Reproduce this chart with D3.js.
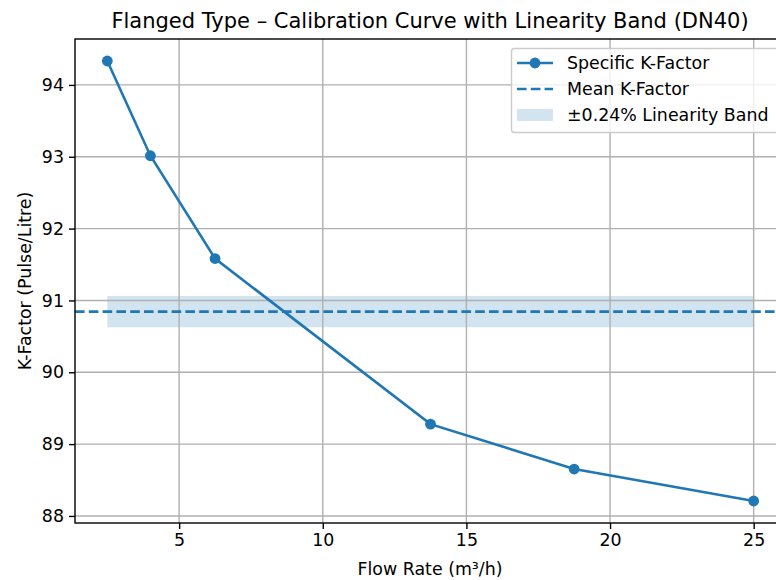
<!DOCTYPE html>
<html><head><meta charset="utf-8">
<script src="https://cdn.jsdelivr.net/npm/d3@7"></script>
<style>body{margin:0;background:#fff}svg{display:block;font-family:"DejaVu Sans",sans-serif}</style>
</head><body>
<svg id="c" width="776" height="580"></svg>
<script>
const flowRates = [2.5, 4, 6.25, 13.75, 18.75, 25];
const kFactors = [94.333, 93.014, 91.583, 89.278, 88.653, 88.208];
const xTicks = [5, 10, 15, 20, 25];
const yTicks = [88, 89, 90, 91, 92, 93, 94];
const linearityPct = 0.24;
const titleText = "Flanged Type \u2013 Calibration Curve with Linearity Band (DN40)";
const legendLabels = ["Specific K-Factor", "Mean K-Factor", "\u00b10.24% Linearity Band"];

const color = "#1f77b4";
const svg = d3.select("#c");
const L = 75, R = 786, T = 39, B = 523;
const FS = "17.4px";
const mean = d3.mean(kFactors);
const half = mean * linearityPct / 100;

const xr = [d3.min(flowRates), d3.max(flowRates)];
const xm = (xr[1]-xr[0])*0.05;
const yr = [d3.min(kFactors), d3.max(kFactors)];
const ym = (yr[1]-yr[0])*0.05;
const x = d3.scaleLinear().domain([xr[0]-xm, xr[1]+xm]).range([L, R]);
const y = d3.scaleLinear().domain([yr[0]-ym, yr[1]+ym]).range([B, T]);

const g = svg.append("g");
// band
g.append("rect").attr("x", x(xr[0])).attr("width", x(xr[1])-x(xr[0]))
 .attr("y", y(mean+half)).attr("height", y(mean-half)-y(mean+half))
 .attr("fill", color).attr("fill-opacity", 0.2);
// grid
g.selectAll(".gx").data(xTicks).join("line").attr("x1", d=>x(d)).attr("x2", d=>x(d))
 .attr("y1", T).attr("y2", B).attr("stroke", "#b0b0b0").attr("stroke-width", 1.4);
g.selectAll(".gy").data(yTicks).join("line").attr("y1", d=>y(d)).attr("y2", d=>y(d))
 .attr("x1", L).attr("x2", R).attr("stroke", "#b0b0b0").attr("stroke-width", 1.4);
// mean line
g.append("line").attr("x1", L).attr("x2", R).attr("y1", y(mean)).attr("y2", y(mean))
 .attr("stroke", color).attr("stroke-width", 2.6).attr("stroke-dasharray", "9.6,4.2");
// series
const pts = flowRates.map((f,i)=>[f,kFactors[i]]);
g.append("path").datum(pts).attr("d", d3.line().x(d=>x(d[0])).y(d=>y(d[1])))
 .attr("fill","none").attr("stroke", color).attr("stroke-width", 2.6);
g.selectAll(".pt").data(pts).join("circle").attr("cx", d=>x(d[0])).attr("cy", d=>y(d[1]))
 .attr("r", 5.4).attr("fill", color);

// axes
const xa = svg.append("g").attr("transform", `translate(0,${B})`)
 .call(d3.axisBottom(x).tickValues(xTicks).tickSize(6).tickPadding(5).tickFormat(d3.format("d")));
const ya = svg.append("g").attr("transform", `translate(${L},0)`)
 .call(d3.axisLeft(y).tickValues(yTicks).tickSize(6).tickPadding(5).tickFormat(d3.format("d")));
[xa, ya].forEach(a=>{
  a.select(".domain").remove();
  a.selectAll("text").attr("font-size", FS).attr("fill", "#000").attr("font-family", "DejaVu Sans");
  a.selectAll("line").attr("stroke", "#000").attr("stroke-width", 1.4);
});
// spines
svg.append("rect").attr("x", L).attr("y", T).attr("width", R-L).attr("height", B-T)
 .attr("fill", "none").attr("stroke", "#000").attr("stroke-width", 1.4);

// title & labels
svg.append("text").attr("x", 430).attr("y", 28).attr("text-anchor","middle")
 .attr("font-size","21px").text(titleText);
svg.append("text").attr("x", 430).attr("y", 575).attr("text-anchor","middle")
 .attr("font-size",FS).text("Flow Rate (m\u00b3/h)");
svg.append("text").attr("transform", `translate(31,281) rotate(-90)`).attr("text-anchor","middle")
 .attr("font-size",FS).text("K-Factor (Pulse/Litre)");

// legend
const lg = svg.append("g");
lg.append("rect").attr("x", 511.5).attr("y", 48.5).attr("width", 300).attr("height", 84).attr("rx", 3)
 .attr("fill", "#fff").attr("fill-opacity", 0.8).attr("stroke", "#cccccc").attr("stroke-width", 1.4);
const ly = [63, 89, 115];
lg.append("line").attr("x1",517).attr("x2",553).attr("y1",ly[0]).attr("y2",ly[0]).attr("stroke",color).attr("stroke-width",2.6);
lg.append("circle").attr("cx",535).attr("cy",ly[0]).attr("r",5.4).attr("fill",color);
lg.append("line").attr("x1",517).attr("x2",553).attr("y1",ly[1]).attr("y2",ly[1]).attr("stroke",color).attr("stroke-width",2.6).attr("stroke-dasharray","9.6,4.2");
lg.append("rect").attr("x",517).attr("y",ly[2]-6).attr("width",36).attr("height",12).attr("fill",color).attr("fill-opacity",0.2);
lg.selectAll(".lt").data(legendLabels).join("text").attr("x",567).attr("y",(d,i)=>ly[i]+6)
 .attr("font-size",FS).text(d=>d);
</script>
</body></html>
